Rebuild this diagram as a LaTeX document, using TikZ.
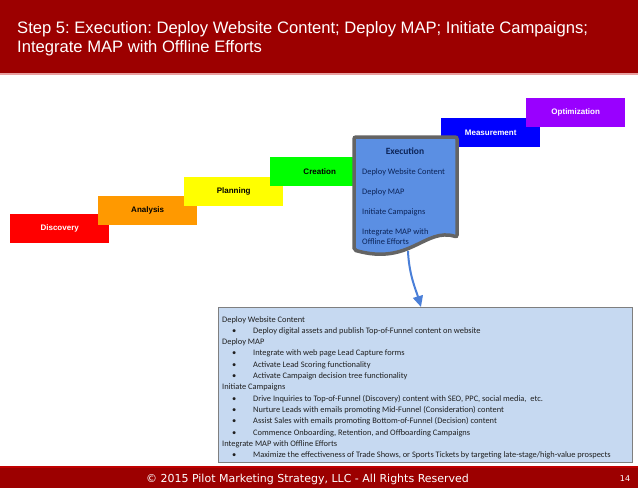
\documentclass[tikz,border=0pt]{standalone}
\usepackage{fontspec}
\setmainfont{Carlito}
\newfontfamily\arialf{Liberation Sans}
\newfontfamily\verdf{DejaVu Sans}
\usetikzlibrary{arrows.meta}
\frenchspacing
\definecolor{hdrred}{HTML}{9C0000}
\definecolor{hdrline}{HTML}{E8A0A0}
\definecolor{ftrline}{HTML}{C00000}
\definecolor{cRed}{HTML}{FF0000}
\definecolor{cOrange}{HTML}{FF9900}
\definecolor{cYellow}{HTML}{FFFF00}
\definecolor{cGreen}{HTML}{00FF00}
\definecolor{cBlue}{HTML}{0000FF}
\definecolor{cPurple}{HTML}{9900FF}
\definecolor{execfill}{HTML}{5B8FE3}
\definecolor{execline}{HTML}{646464}
\definecolor{exectext}{HTML}{0C2458}
\definecolor{detfill}{HTML}{C6D9F1}
\definecolor{detline}{HTML}{7F7F7F}
\definecolor{arrowblue}{HTML}{4A7FD8}
\definecolor{bodytext}{HTML}{202020}
\tikzset{
  stepbox/.style={minimum width=99pt, minimum height=29pt, inner sep=0pt, anchor=north west,
    font=\arialf\bfseries\fontsize{8}{9}\selectfont},
  exectxt/.style={anchor=base west, inner sep=0pt, text=exectext, font=\fontsize{8.4}{9}\selectfont},
  hline/.style={anchor=base west, inner sep=0pt, text=bodytext, font=\fontsize{8.4}{9}\selectfont},
  bline/.style={hline},
}
\newcommand{\bulitem}[1]{\makebox[21pt][l]{\textbullet}#1}
\begin{document}
\begin{tikzpicture}[x=1pt,y=-1pt]
\useasboundingbox (0,0) rectangle (638,488);
% header
\fill[hdrred] (0,0) rectangle (638,73);
\fill[hdrline] (0,73) rectangle (638,74.5);
\node[anchor=base west, inner sep=0pt, text=white,
  font=\arialf\fontsize{16.6}{19}\selectfont] (title) at (17,33.5)
  {Step 5: Execution: Deploy Website Content; Deploy MAP; Initiate Campaigns;};
\node[anchor=base west, inner sep=0pt, text=white,
  font=\arialf\fontsize{16.6}{19}\selectfont] (title2) at (17,52.5)
  {Integrate MAP with Offline Efforts};
% footer
\fill[ftrline] (0,466) rectangle (638,468);
\fill[hdrred] (0,468) rectangle (638,488);
\node[anchor=base, inner sep=0pt, text=white, font=\verdf\fontsize{11}{12}\selectfont] (copy) at (307.5,482)
  {© 2015 Pilot Marketing Strategy, LLC - All Rights Reserved};
\node[anchor=base, inner sep=0pt, text=white, font=\verdf\fontsize{8}{9}\selectfont] (pg) at (625,481.5) {14};
% steps
\node[stepbox, fill=cRed, text=white] (disc) at (10,214) {Discovery};
\node[stepbox, fill=cOrange, text=black] (anal) at (98,196) {Analysis};
\node[stepbox, fill=cYellow, text=black] (plan) at (184,177) {Planning};
\node[stepbox, fill=cGreen, text=black] (crea) at (270,157) {Creation};
\node[stepbox, fill=cBlue, text=white] (meas) at (441,118) {Measurement};
\node[stepbox, fill=cPurple, text=white] (opti) at (526,98) {Optimization};
% execution document shape
\draw[execline, line width=3.5pt, fill=execfill, rounded corners=2pt]
  (354,137) -- (457,137) -- (457,237)
  .. controls (425,227) and (410,266) .. (354,250) -- cycle;
\coordinate (execbot) at (408,251);
\node[inner sep=0pt, text=exectext, font=\bfseries\fontsize{9.5}{10}\selectfont, anchor=base] (exec) at (405,154.5) {Execution};
\node[exectxt] (e1) at (362,174) {Deploy Website Content};
\node[exectxt] (e2) at (362,194) {Deploy MAP};
\node[exectxt] (e3) at (362,214) {Initiate Campaigns};
\node[exectxt] (e4) at (362,234) {Integrate MAP with};
\node[exectxt] (e5) at (362,244) {Offline Efforts};
% details box
\node[draw=detline, fill=detfill, line width=1pt, minimum width=414pt, minimum height=155pt, anchor=north west, inner sep=0pt] (det) at (218,307) {};
\draw[arrowblue, line width=2pt, -{Triangle[length=11pt,width=10pt]}]
  (execbot) .. controls (409,275) and (416,290) .. (det.north -| 421,0);
\node[hline] (d0) at (222,322) {Deploy Website Content};
\node[bline] (d1) at (232,333.3) {\bulitem{Deploy digital assets and publish Top-of-Funnel content on website}};
\node[hline] (d2) at (222,344.6) {Deploy MAP};
\node[bline] (d3) at (232,355.9) {\bulitem{Integrate with web page Lead Capture forms}};
\node[bline] (d4) at (232,367.2) {\bulitem{Activate Lead Scoring functionality}};
\node[bline] (d5) at (232,378.5) {\bulitem{Activate Campaign decision tree functionality}};
\node[hline] (d6) at (222,389.8) {Initiate Campaigns};
\node[bline] (d7) at (232,401.1) {\bulitem{Drive Inquiries to Top-of-Funnel (Discovery) content with SEO, PPC, social media,\ \ etc.}};
\node[bline] (d8) at (232,412.4) {\bulitem{Nurture Leads with emails promoting Mid-Funnel (Consideration) content}};
\node[bline] (d9) at (232,423.7) {\bulitem{Assist Sales with emails promoting Bottom-of-Funnel (Decision) content}};
\node[bline] (d10) at (232,435.0) {\bulitem{Commence Onboarding, Retention, and Offboarding Campaigns}};
\node[hline] (d11) at (222,446.3) {Integrate MAP with Offline Efforts};
\node[bline] (d12) at (232,457.6) {\bulitem{Maximize the effectiveness of Trade Shows, or Sports Tickets by targeting late-stage/high-value prospects}};
\end{tikzpicture}
\end{document}
